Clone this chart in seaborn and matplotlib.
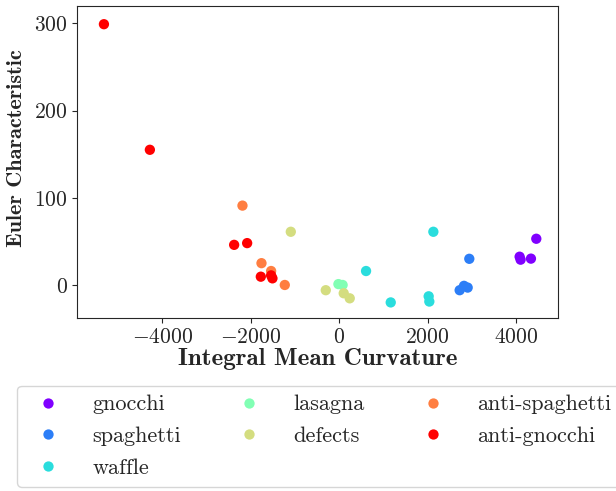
import matplotlib
matplotlib.use("Agg")
import matplotlib.pyplot as plt
import seaborn as sns
import pandas as pd
import numpy as np

categories = ["gnocchi", "spaghetti", "waffle", "lasagna", "defects",
              "anti-spaghetti", "anti-gnocchi"]

gnocchi_x = [4083, 4105, 4339, 4460]
gnocchi_y = [32.4, 29, 30.2, 53]
spaghetti_x = [2945, 2727, 2825, 2908]
spaghetti_y = [30, -6, -1, -3]
waffle_x = [610, 1168, 2132, 2026, 2041]
waffle_y = [16, -20, 61, -13, -19]
lasagna_x = [-15, 80]
lasagna_y = [1, 0]
defects_x = [-1092, -301, 105, 241]
defects_y = [61, -6, -9.5, -15.3]
anti_spaghetti_x = [-2185, -1755, -1537, -1228]
anti_spaghetti_y = [91, 25, 16, 0]
anti_gnocchi_x = [-5318, -4279, -2373, -2079, -1770, -1537, -1507]
anti_gnocchi_y = [299, 155, 46, 48, 9.5, 11, 7.6]

series = [gnocchi_x, spaghetti_x, waffle_x, lasagna_x, defects_x,
          anti_spaghetti_x, anti_gnocchi_x]
series_y = [gnocchi_y, spaghetti_y, waffle_y, lasagna_y, defects_y,
            anti_spaghetti_y, anti_gnocchi_y]

rows = []
for cat, xs, ys in zip(categories, series, series_y):
    for a, b in zip(xs, ys):
        rows.append({"IMC": a, "EC": b, "type": cat})
df = pd.DataFrame(rows)

sns.set_style("ticks")
plt.rcParams["font.family"] = ["cmr10", "DejaVu Sans"]
plt.rcParams["mathtext.fontset"] = "cm"
plt.rcParams["axes.formatter.use_mathtext"] = True
plt.rcParams["axes.unicode_minus"] = True

fig = plt.figure(figsize=(6.16, 4.91), dpi=100)
ax = fig.add_axes([0.1255, 0.353, 0.781, 0.635])

cmap = matplotlib.colormaps["rainbow"]
palette = [cmap(v) for v in np.linspace(0, 1, len(categories))]
sns.scatterplot(data=df, x="IMC", y="EC", hue="type", hue_order=categories,
                palette=palette, s=55, linewidth=0, ax=ax, legend=True)

ax.set_xlim(-5920, 4960)
ax.set_ylim(-37.5, 320)
ax.set_xticks([-4000, -2000, 0, 2000, 4000])
ax.set_yticks([0, 100, 200, 300])
ax.tick_params(labelsize=15.5)
for s in ax.spines.values():
    s.set_visible(True)
ax.set_xlabel("Integral Mean Curvature", fontsize=18, family="cmb10", labelpad=1)
ax.set_ylabel("Euler Characteristic", fontsize=16, family="cmb10")
ax.yaxis.set_label_coords(-0.107, 0.544)

sns.move_legend(ax, "upper left", bbox_to_anchor=(-0.125, -0.219), ncol=3,
                fontsize=16, title=None, frameon=True, handlelength=2.0,
                handletextpad=1.0, columnspacing=2.05, labelspacing=0.55,
                borderaxespad=0)

fig.savefig("out.png", dpi=100)
